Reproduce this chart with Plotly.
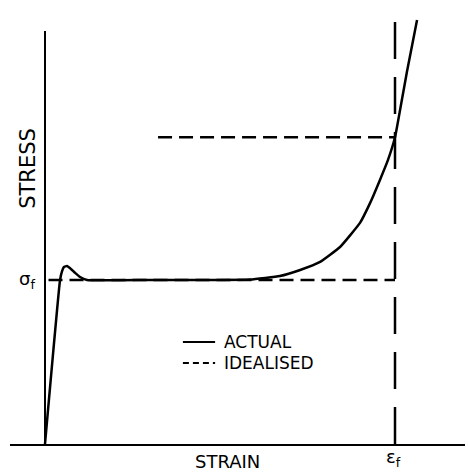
import plotly.graph_objects as go

# Actual stress-strain curve (strain normalised to eps_f, stress to sigma_f)
actual_strain = [0.0, 0.043, 0.049, 0.054, 0.063, 0.071, 0.086, 0.100, 0.120,
                 0.300, 0.450, 0.586, 0.671, 0.729, 0.786, 0.843, 0.900, 0.929,
                 0.957, 0.980, 1.000, 1.017, 1.034, 1.063]
actual_stress = [0.0, 1.000, 1.055, 1.079, 1.085, 1.073, 1.043, 1.018, 1.000,
                 1.000, 1.000, 1.003, 1.024, 1.061, 1.110, 1.201, 1.348, 1.470,
                 1.610, 1.732, 1.870, 2.067, 2.268, 2.585]

# Idealised (dashed) construction lines
ideal_h_strain = [0.01, 1.0, None, 0.323, 1.0]
ideal_h_stress = [1.0, 1.0, None, 1.870, 1.870]
ideal_v_strain = [1.0, 1.0]
ideal_v_stress = [0.0, 2.665]

# Axis line extents
yaxis_line_strain = [0.0, 0.0]
yaxis_line_stress = [0.0, 2.518]

# Legend entries
legend_labels = ["ACTUAL", "IDEALISED"]

FONT = "DejaVu Sans, Liberation Sans, sans-serif"

fig = go.Figure()

fig.add_trace(go.Scatter(
    x=yaxis_line_strain, y=yaxis_line_stress, mode="lines",
    line=dict(color="black", width=2), showlegend=False, hoverinfo="skip"))

fig.add_trace(go.Scatter(
    x=actual_strain, y=actual_stress, mode="lines", name=legend_labels[0],
    showlegend=False,
    line=dict(color="black", width=2.5, shape="spline", smoothing=0.35)))

fig.add_trace(go.Scatter(
    x=ideal_h_strain, y=ideal_h_stress, mode="lines", name=legend_labels[1],
    showlegend=False,
    line=dict(color="black", width=2.5, dash="14px,7px")))

fig.add_trace(go.Scatter(
    x=ideal_v_strain, y=ideal_v_stress, mode="lines", name=legend_labels[1],
    showlegend=False,
    line=dict(color="black", width=2.5, dash="37px,18px")))

# Hand-drawn key (solid / dashed samples with labels)
key_y = [0.622, 0.494]
key_dash = ["solid", "6px,4px"]
shapes = []
for ky, kd in zip(key_y, key_dash):
    shapes.append(dict(type="line", xref="x", yref="y", x0=0.394, x1=0.486,
                       y0=ky, y1=ky, line=dict(color="black", width=2, dash=kd)))

annotations = [
    dict(x=-0.049, y=1.683, text="STRESS", textangle=-90, showarrow=False,
         font=dict(size=21, color="black", family=FONT), xref="x", yref="y"),
    dict(x=-0.023, y=1.0, text="σ<sub>f</sub>", xanchor="right", showarrow=False,
         font=dict(size=18, color="black", family=FONT), xref="x", yref="y"),
    dict(x=0.52, y=-0.0405, text="STRAIN", showarrow=False, yanchor="middle",
         font=dict(size=18, color="black", family=FONT), xref="x", yref="paper"),
    dict(x=0.996, y=-0.001, text="ε<sub>f</sub>", showarrow=False, yanchor="top",
         font=dict(size=18, color="black", family=FONT), xref="x", yref="paper"),
]
for ky, lab in zip(key_y, legend_labels):
    annotations.append(dict(x=0.506, y=ky, text=lab, xanchor="left",
                            showarrow=False, xref="x", yref="y",
                            font=dict(size=17, color="black", family=FONT)))

fig.update_layout(
    width=468, height=472,
    margin=dict(l=10, r=3, t=0, b=28),
    paper_bgcolor="white", plot_bgcolor="white",
    font=dict(family=FONT, color="black"),
    annotations=annotations,
    shapes=shapes,
    showlegend=False,
    xaxis=dict(range=[-0.1, 1.2], showgrid=False, zeroline=False,
               showticklabels=False, ticks="", showline=True,
               linecolor="black", linewidth=2, fixedrange=True),
    yaxis=dict(range=[0, 2.707], showgrid=False, zeroline=False,
               showticklabels=False, ticks="", showline=False, fixedrange=True),
)

fig.write_html("out.html", config={"displayModeBar": False},
               post_script="document.body.style.margin='0';")
